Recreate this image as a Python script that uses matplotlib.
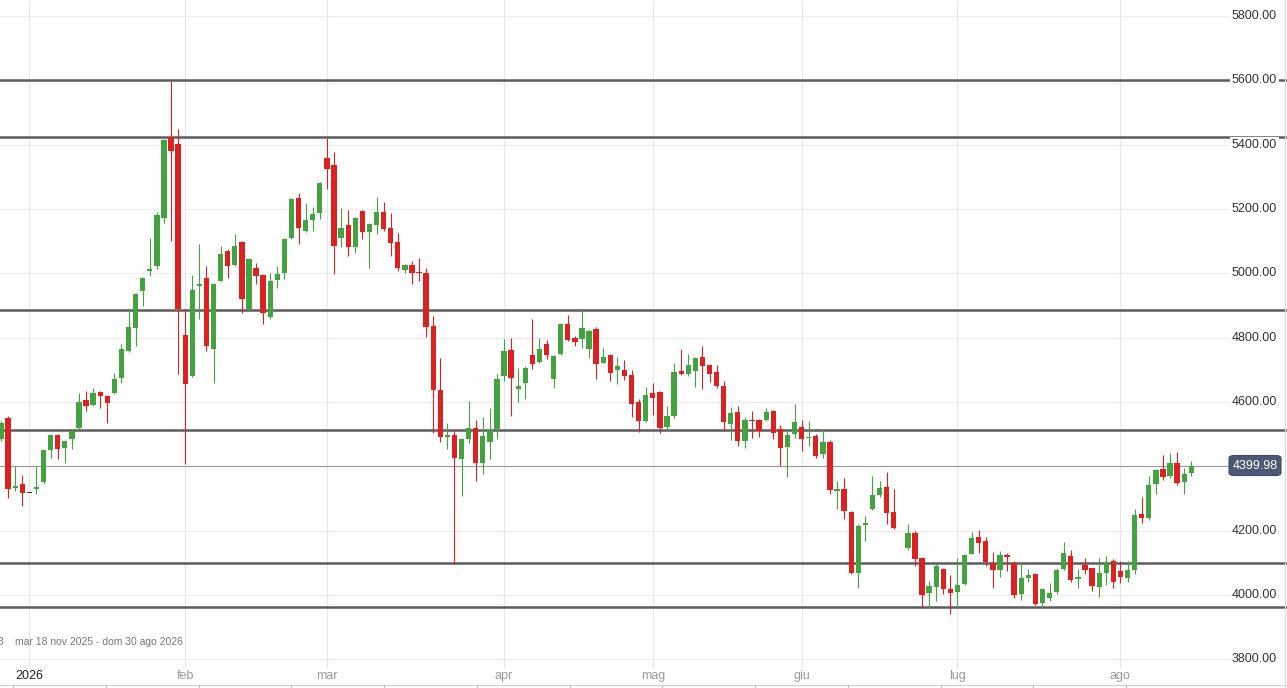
import numpy as np
import matplotlib
matplotlib.use("Agg")
import matplotlib.pyplot as plt
import matplotlib.transforms as mtrans
from matplotlib.lines import Line2D
from matplotlib.patches import FancyBboxPatch

plt.rcParams['font.family'] = ['Liberation Sans', 'DejaVu Sans']

nan = np.nan
opens = [4485, 4550, 4333, 4345, 4320, 4330, 4351, 4450, 4498, 4457, 4485, 4520, 4607, 4591, 4631, 4619, 4628, 4675, 4759, 4830,
         4946, 5008, 5023, 5173, 5425, 5403, 4809, 4681, 4962, 4986, 4765, 4977, 5070, 5026, 5098, 4890, 5017, 4995, 4865, 4980,
         5002, 5110, 5235, 5132, 5166, 5188, 5359, 5337, 5110, 5151, 5083, 5194, 5129, 5151, 5191, 5141, 5098, 5011, 5026, 5003,
         5002, 4837, 4638, 4491, 4498, 4423, 4485, 4519, 4411, 4476, 4516, 4681, 4762, 4641, 4660, 4747, 4725, 4781, 4672, 4750,
         4843, 4799, 4796, 4765, 4827, 4722, 4747, 4700, 4700, 4684, 4600, 4541, 4628, 4631, 4522, 4557, 4697, 4687, 4697, 4740,
         4715, 4694, 4650, 4532, 4569, 4479, 4545, 4544, 4544, 4572, 4516, 4460, 4501, 4522, 4490, 4495, 4439, 4476, 4324, 4330,
         4258, 4068, 4219, 4267, 4311, 4336, 4258, nan, 4146, 4193, 4115, 4006, 4025, 4081, 4019, 4009, 4034, 4128, 4180, 4168,
         4096, 4078, 4124, 4100, 4003, 4053, 4065, 3975, 3991, 4009, 4081, 4121, 4050, 4093, 4084, 4025, 4068, 4106, 4075, 4053,
         4078, 4252, 4240, 4345, 4392, 4370, 4411, 4351, 4380]
highs = [4540, 4555, 4400, 4373, 4320, 4400, 4452, 4500, 4501, 4480, 4516, 4628, 4635, 4644, 4634, 4622, 4690, 4781, 4890, 4940,
         4990, 5110, 5191, 5418, 5599, 5450, 4890, 4995, 5092, 5023, 4970, 5086, 5075, 5123, 5101, 5048, 5033, 4998, 5002, 5023,
         5110, 5235, 5250, 5219, 5207, 5284, 5421, 5378, 5204, 5197, 5176, 5196, 5156, 5238, 5222, 5188, 5126, 5028, 5039, 5048,
         5017, 4868, 4737, 4535, 4513, 4487, 4603, 4544, 4554, 4582, 4687, 4796, 4799, 4706, 4712, 4858, 4799, 4793, 4745, 4845,
         4871, 4805, 4886, 4823, 4834, 4768, 4750, 4740, 4731, 4700, 4610, 4647, 4660, 4634, 4588, 4722, 4765, 4750, 4740, 4775,
         4718, 4716, 4666, 4585, 4588, 4554, 4572, 4546, 4582, 4575, 4529, 4516, 4594, 4544, 4541, 4500, 4516, 4482, 4355, 4364,
         4260, 4221, 4246, 4370, 4355, 4383, 4330, nan, 4221, 4199, 4117, 4044, 4096, 4084, 4062, 4115, 4128, 4196, 4202, 4180,
         4134, 4137, 4131, 4106, 4100, 4081, 4067, 4022, 4037, 4084, 4165, 4140, 4081, 4115, 4085, 4115, 4121, 4112, 4106, 4106,
         4267, 4305, 4370, 4392, 4435, 4442, 4445, 4395, 4417]
lows = [4480, 4300, 4323, 4277, 4320, 4314, 4345, 4425, 4423, 4410, 4454, 4517, 4572, 4588, 4582, 4535, 4625, 4660, 4756, 4775,
        4899, 4992, 5014, 5157, 5101, 4687, 4407, 4678, 4858, 4759, 4660, 4975, 4986, 5024, 4877, 4887, 4967, 4843, 4858, 4955,
        4983, 5107, 5092, 5129, 5132, 5169, 5263, 4998, 5083, 5054, 5064, 5107, 5017, 5123, 5132, 5054, 5008, 5002, 4967, 4977,
        4803, 4504, 4476, 4454, 4096, 4308, 4473, 4355, 4376, 4423, 4485, 4666, 4557, 4600, 4610, 4703, 4720, 4734, 4644, 4745,
        4790, 4775, 4768, 4737, 4672, 4720, 4666, 4656, 4669, 4554, 4507, 4538, 4560, 4504, 4513, 4551, 4685, 4681, 4647, 4641,
        4663, 4644, 4510, 4482, 4463, 4457, 4488, 4491, 4541, 4485, 4401, 4367, 4488, 4448, 4463, 4426, 4426, 4314, 4267, 4236,
        4065, 4022, 4168, 4264, 4305, 4221, 4205, nan, 4140, 4090, 3960, 3960, 3981, 4003, 3941, 3960, 4031, 4126, 4131, 4090,
        4022, 4056, 4075, 3991, 3984, 4040, 3969, 3960, 3981, 4003, 4079, 4040, 4022, 4065, 4012, 3994, 4031, 4022, 4037, 4040,
        4065, 4224, 4233, 4314, 4358, 4364, 4342, 4314, 4370]
closes = [4535, 4330, 4338, 4317, 4320, 4336, 4450, 4498, 4454, 4479, 4510, 4600, 4588, 4628, 4619, 4597, 4672, 4765, 4834, 4936,
          4986, 5012, 5182, 5415, 5381, 4890, 4656, 4949, 4966, 4775, 4967, 5061, 5023, 5086, 4921, 5045, 4992, 4877, 4977, 4998,
          5107, 5232, 5141, 5166, 5185, 5281, 5325, 5086, 5141, 5083, 5173, 5129, 5154, 5191, 5138, 5095, 5017, 5026, 5002, 5001,
          4834, 4638, 4491, 4496, 4426, 4485, 4519, 4411, 4495, 4513, 4672, 4759, 4675, 4650, 4706, 4718, 4765, 4747, 4743, 4843,
          4793, 4787, 4830, 4821, 4718, 4740, 4691, 4712, 4681, 4594, 4541, 4622, 4613, 4519, 4557, 4694, 4687, 4715, 4737, 4712,
          4687, 4650, 4538, 4566, 4479, 4544, 4543, 4510, 4569, 4504, 4457, 4498, 4538, 4485, 4493, 4432, 4476, 4327, 4328, 4261,
          4068, 4215, 4223, 4311, 4333, 4255, 4208, nan, 4193, 4112, 4000, 4028, 4090, 4019, 4006, 4031, 4124, 4177, 4162, 4103,
          4078, 4124, 4118, 4000, 4053, 4062, 3972, 4019, 4006, 4078, 4131, 4047, 4056, 4078, 4028, 4068, 4103, 4040, 4056, 4078,
          4249, 4240, 4342, 4389, 4367, 4411, 4348, 4376, 4400]

month_labels = ["2026", "feb", "mar", "apr", "mag", "giu", "lug", "ago"]
month_slots = [4, 26, 46, 71, 92, 113, 135, 158]
y_ticks = [3800, 4000, 4200, 4400, 4600, 4800, 5000, 5200, 5400, 5600, 5800]
levels = [5600, 5425, 4887, 4512, 4100, 3962]
last_price = 4399.98
range_text = "mar 18 nov 2025 - dom 30 ago 2026"

W, H = 1287, 688
fig = plt.figure(figsize=(W / 100, H / 100), dpi=100)
ax = fig.add_axes([0, 0, 1, 1])
ax.set_axis_off()

slot_px = 7.085
x0_px = 1.0
ax.set_xlim((0 - x0_px) / slot_px, (W - x0_px) / slot_px)
y_scale = 0.3217  # px per unit
ax.set_ylim(4000 - (H - 595) / y_scale, 4000 + 595 / y_scale)

tr_ay = mtrans.blended_transform_factory(ax.transAxes, ax.transData)
tr_xa = mtrans.blended_transform_factory(ax.transData, ax.transAxes)

# grid
for v in y_ticks:
    ax.axhline(v, xmin=0, xmax=1230 / W, color='#ececec', lw=0.8, zorder=0)
for s in month_slots:
    ax.axvline(s, ymin=(H - 667) / H, ymax=1, color='#e6e6e6', lw=0.8, zorder=0)

# levels
for lv in levels:
    ax.axhline(lv, color='#5c5c5c', lw=1.8, zorder=1)
ax.axhline(last_price, xmin=0, xmax=1228 / W, color='#9a9a9a', lw=0.8, zorder=1)

# candles
o = np.array(opens, float); h = np.array(highs, float)
l = np.array(lows, float); c = np.array(closes, float)
x = np.arange(len(o))
green, red = '#43a340', '#dd2121'
cols = []
for oi, ci in zip(o, c):
    if np.isnan(oi):
        cols.append('none')
    elif ci > oi:
        cols.append(green)
    elif ci < oi:
        cols.append(red)
    else:
        cols.append('#333333')
ok = ~np.isnan(o)
ax.vlines(x[ok], l[ok], h[ok], colors=[cols[i] for i in range(len(o)) if ok[i]], lw=0.8, zorder=3)
bottoms = np.minimum(o, c)
heights = np.maximum(np.abs(c - o), 3.2)
ax.bar(x[ok], heights[ok], bottom=bottoms[ok] - np.where(np.abs(c - o)[ok] < 3.2, 1.6, 0),
       width=0.75, color=[cols[i] for i in range(len(o)) if ok[i]], linewidth=0, zorder=4)

# y labels
for v in y_ticks:
    ax.text(1232 / W, v, f"{v:.2f}", transform=tr_ay, ha='left', va='center', fontsize=9,
            color='#333333', zorder=6,
            bbox=dict(boxstyle='square,pad=0.15', fc='white', ec='none'))

# last price box
box = FancyBboxPatch((1229 / W, 1 - 475.5 / H), 52 / W, 20 / H, boxstyle='round,pad=0,rounding_size=0.004',
                     transform=ax.transAxes, fc='#4b5a74', ec='#3e4b61', lw=0.8, zorder=7)
ax.add_patch(box)
ax.text(1255 / W, last_price, f"{last_price:.2f}", transform=tr_ay, ha='center', va='center',
        fontsize=9, color='white', zorder=8)

# month labels
for lab, s in zip(month_labels, month_slots):
    ax.text(s, 1 - 676 / H, lab, transform=tr_xa, ha='center', va='center', fontsize=9,
            color='#222222' if lab == "2026" else '#9a9a9a', zorder=6)

# range text
fig.text(15 / W, 1 - 642 / H, range_text, ha='left', va='center', fontsize=7.5, color='#777777')
fig.text(3 / W, 1 - 642 / H, "3", ha='right', va='center', fontsize=7.5, color='#777777')

# bottom strip line and ticks
fig.add_artist(Line2D([0, 1], [1 - 685 / H, 1 - 685 / H], color='#cfcfcf', lw=0.8))
for k in range(13):
    xp = (13 + 92.75 * k) / W
    fig.add_artist(Line2D([xp, xp], [0, 1 - 685 / H], color='#bdbdbd', lw=0.8))
fig.add_artist(Line2D([1285 / W, 1285 / W], [0, 1], color='#d5dde2', lw=0.8))

fig.savefig("out.png", dpi=100)
